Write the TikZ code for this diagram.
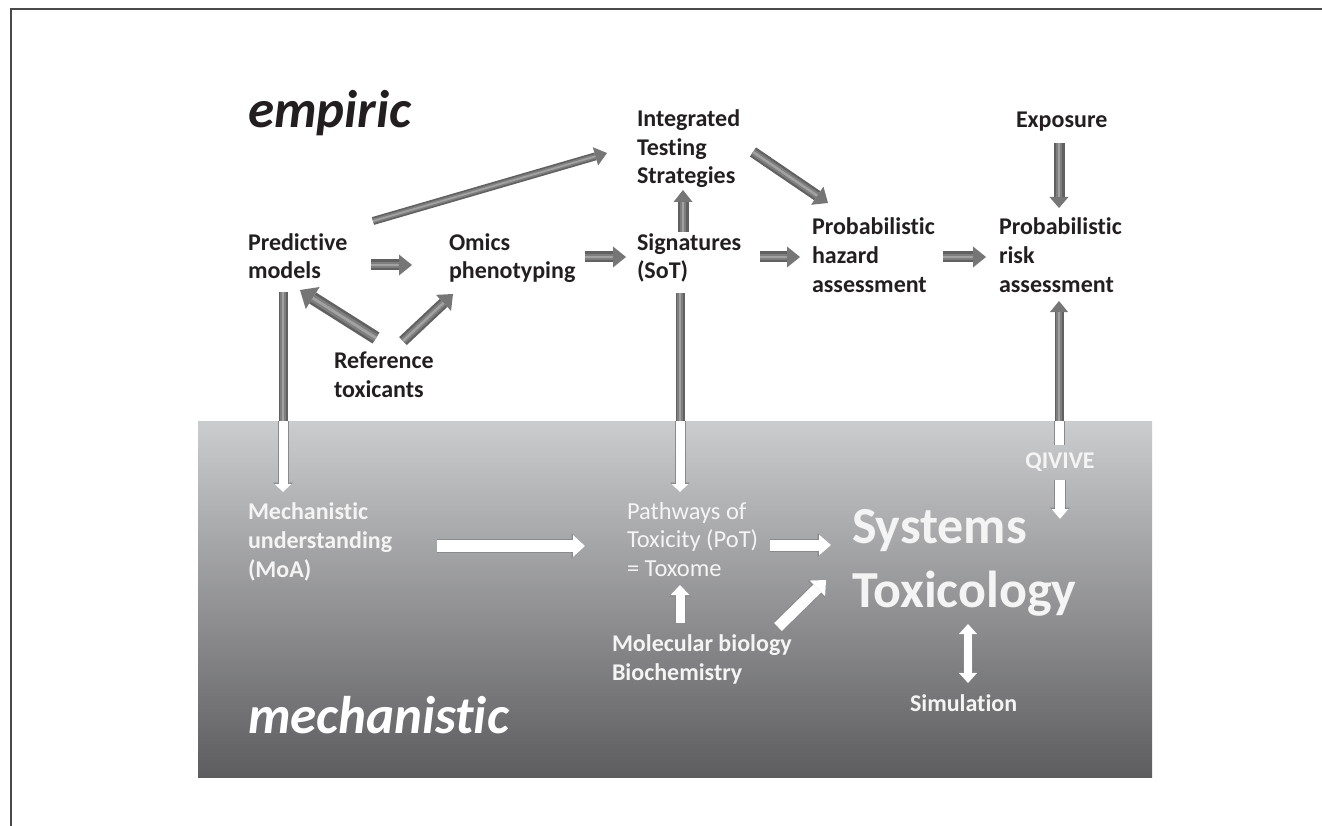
\documentclass[tikz,border=0pt]{standalone}
\usepackage{fontspec}
\setmainfont{Carlito}[Ligatures=NoCommon]
\usetikzlibrary{arrows.meta,calc}
\definecolor{txt}{HTML}{231F20}
\definecolor{wtxt}{HTML}{F4F4F4}
\definecolor{boxtop}{HTML}{CBCCCE}
\definecolor{boxbot}{HTML}{5D5D5F}
\definecolor{framec}{HTML}{4A4A4A}
\definecolor{gA}{HTML}{616161}
\definecolor{gB}{HTML}{7E7E7E}
\definecolor{gC}{HTML}{A2A2A2}
\definecolor{gT}{HTML}{767676}
\definecolor{wS}{HTML}{8A8A8A}
% gray 3D block arrow: from, to, shaft width, head width, head length
\newcommand\GArrow[5]{%
  \pgfmathsetmacro\wA{#3}\pgfmathsetmacro\wB{0.6*#3}\pgfmathsetmacro\wC{0.22*#3}%
  \draw[draw=gA, line width=\wA pt, -{Triangle[line width=0pt,length=#5pt,width=#4pt,color=gT]}] (#1) -- (#2);
  \draw[draw=gB, line width=\wB pt, shorten >=#5pt] (#1) -- (#2);
  \draw[draw=gC, line width=\wC pt, shorten >=#5pt] (#1) -- (#2);
}
% gray shaft only
\newcommand\GShaft[3]{%
  \pgfmathsetmacro\wA{#3}\pgfmathsetmacro\wB{0.6*#3}\pgfmathsetmacro\wC{0.22*#3}%
  \draw[draw=gA, line width=\wA pt] (#1) -- (#2);
  \draw[draw=gB, line width=\wB pt] (#1) -- (#2);
  \draw[draw=gC, line width=\wC pt] (#1) -- (#2);
}
% white block arrow
\newcommand\WArrow[5]{%
  \pgfmathsetmacro\wA{#3+2}\pgfmathsetmacro\hW{#4+3}\pgfmathsetmacro\hL{#5+1.5}%
  \draw[draw=wS, line width=\wA pt, -{Triangle[line width=0pt,length=\hL pt,width=\hW pt,color=wS]}] (#1) -- (#2);
  \draw[draw=white, line width=#3pt, -{Triangle[line width=0pt,length=#5pt,width=#4pt,color=white]}] (#1) -- (#2);
}
\newcommand\WShaft[3]{%
  \pgfmathsetmacro\wA{#3+2}%
  \draw[draw=wS, line width=\wA pt] (#1) -- (#2);
  \draw[draw=white, line width=#3pt] (#1) -- (#2);
}
\newcommand\WDouble[5]{%
  \pgfmathsetmacro\wA{#3+2}\pgfmathsetmacro\hW{#4+3}\pgfmathsetmacro\hL{#5+1.5}%
  \draw[draw=wS, line width=\wA pt, {Triangle[line width=0pt,length=\hL pt,width=\hW pt,color=wS]}-{Triangle[line width=0pt,length=\hL pt,width=\hW pt,color=wS]}] (#1) -- (#2);
  \draw[draw=white, line width=#3pt, {Triangle[line width=0pt,length=#5pt,width=#4pt,color=white]}-{Triangle[line width=0pt,length=#5pt,width=#4pt,color=white]}] (#1) -- (#2);
}
\begin{document}
\begin{tikzpicture}[x=1pt,y=-1pt,
  every node/.style={inner sep=0pt, outer sep=0pt, align=left, anchor=base west},
  lbl/.style={font=\fontsize{24}{28.8}\selectfont\bfseries, text=txt},
  wlbl/.style={font=\fontsize{24}{28.8}\selectfont\bfseries, text=wtxt},
  wreg/.style={font=\fontsize{24.5}{28.2}\selectfont, text=wtxt},
  big/.style={font=\fontsize{53}{60}\selectfont\bfseries\itshape},
  huge/.style={font=\fontsize{52}{64}\selectfont\bfseries, text=wtxt}]
\useasboundingbox (0,0) rectangle (1322,826);
\fill[white] (0,0) rectangle (1322,826);
\shade[top color=boxtop, bottom color=boxbot] (198,421) rectangle (1152,777);
\draw[framec, line width=1.6] (11,826) -- (11,9) -- (1322,9);

% labels (base = baseline of the last line)
\node[big, text=txt] (emp) at (248,128) {empiric};
\node[big, text=white] (mech) at (248,733) {mechanistic};
\node[lbl] (its) at (637,184) {Integrated\\Testing\\Strategies};
\node[lbl] (exp) at (1016,128) {Exposure};
\node[lbl] (pm) at (248,279) {Predictive\\models};
\node[lbl] (om) at (449,279) {Omics\\phenotyping};
\node[lbl] (sig) at (637,279) {Signatures\\(SoT)};
\node[lbl] (pha) at (812,292) {Probabilistic\\hazard\\assessment};
\node[lbl] (pra) at (999,292) {Probabilistic\\risk\\assessment};
\node[lbl] (ref) at (334,397) {Reference\\toxicants};
\node[wlbl] (mu) at (248,577) {Mechanistic\\understanding\\(MoA)};
\node[wreg] (pot) at (627,576) {Pathways of\\Toxicity (PoT)\\= Toxome};
\node[huge] (st) at (852,607) {Systems\\Toxicology};
\node[wlbl, anchor=base] (qiv) at (1060,468) {QIVIVE};
\node[wlbl] (mol) at (612,680) {Molecular biology\\Biochemistry};
\node[wlbl] (sim) at (910,711) {Simulation};

% arrow end points
\coordinate (pm-its-s) at (373,221);  \coordinate (pm-its-e) at (607,153);
\coordinate (pm-om-s) at (371,265);   \coordinate (pm-om-e) at (412,265);
\coordinate (ref-pm-s) at (376,338);  \coordinate (ref-pm-e) at (300,290);
\coordinate (ref-om-s) at (403,341);  \coordinate (ref-om-e) at (453,294);
\coordinate (om-sig-s) at (585,257);  \coordinate (om-sig-e) at (626,257);
\coordinate (sig-its-s) at (683,232); \coordinate (sig-its-e) at (683,190);
\coordinate (its-pha-s) at (753,152); \coordinate (its-pha-e) at (828,203);
\coordinate (sig-pha-s) at (760,257); \coordinate (sig-pha-e) at (800,257);
\coordinate (pha-pra-s) at (943,257); \coordinate (pha-pra-e) at (986,257);
\coordinate (exp-pra-s) at (1059,143); \coordinate (exp-pra-e) at (1059,208);
\coordinate (qiv-pra-s) at (1059,445); \coordinate (qiv-pra-m) at (1059,421); \coordinate (qiv-pra-e) at (1059,301);
\coordinate (qiv-st-s) at (1060,480); \coordinate (qiv-st-e) at (1060,519);
\coordinate (pm-mu-s) at (283,292);   \coordinate (pm-mu-m) at (283,421); \coordinate (pm-mu-e) at (283,492);
\coordinate (sig-pot-s) at (680,293); \coordinate (sig-pot-m) at (680,421); \coordinate (sig-pot-e) at (680,492);
\coordinate (mu-pot-s) at (437,546);  \coordinate (mu-pot-e) at (585,546);
\coordinate (pot-st-s) at (770,545);  \coordinate (pot-st-e) at (831,545);
\coordinate (mol-pot-s) at (680,623); \coordinate (mol-pot-e) at (680,585);
\coordinate (mol-st-s) at (778,627);  \coordinate (mol-st-e) at (826,580);
\coordinate (sim-st-s) at (968,683);  \coordinate (sim-st-e) at (968,624);

% gray arrows (empiric part)
\GArrow{pm-its-s}{pm-its-e}{8}{19}{12}
\GArrow{pm-om-s}{pm-om-e}{11}{21}{13}
\GArrow{ref-pm-s}{ref-pm-e}{13}{26}{15}
\GArrow{ref-om-s}{ref-om-e}{11}{22}{13}
\GArrow{om-sig-s}{om-sig-e}{11}{21}{13}
\GArrow{sig-its-s}{sig-its-e}{11}{19}{12}
\GArrow{its-pha-s}{its-pha-e}{11}{22}{13}
\GArrow{sig-pha-s}{sig-pha-e}{11}{21}{13}
\GArrow{pha-pra-s}{pha-pra-e}{11}{21}{13}
\GArrow{exp-pra-s}{exp-pra-e}{11}{19}{11}
\GArrow{qiv-pra-m}{qiv-pra-e}{9}{18}{11}
\GShaft{pm-mu-s}{pm-mu-m}{9}
\GShaft{sig-pot-s}{sig-pot-m}{9}

% white arrows (mechanistic part)
\WShaft{qiv-pra-s}{qiv-pra-m}{9}
\WArrow{pm-mu-m}{pm-mu-e}{9}{17}{8}
\WArrow{sig-pot-m}{sig-pot-e}{9}{17}{8}
\WArrow{qiv-st-s}{qiv-st-e}{10}{17}{10}
\WArrow{mu-pot-s}{mu-pot-e}{12}{22}{12}
\WArrow{pot-st-s}{pot-st-e}{11}{21}{12}
\WArrow{mol-pot-s}{mol-pot-e}{9}{19}{10}
\WArrow{mol-st-s}{mol-st-e}{11}{22}{12}
\WDouble{sim-st-s}{sim-st-e}{8}{18}{10}
\end{tikzpicture}
\end{document}
